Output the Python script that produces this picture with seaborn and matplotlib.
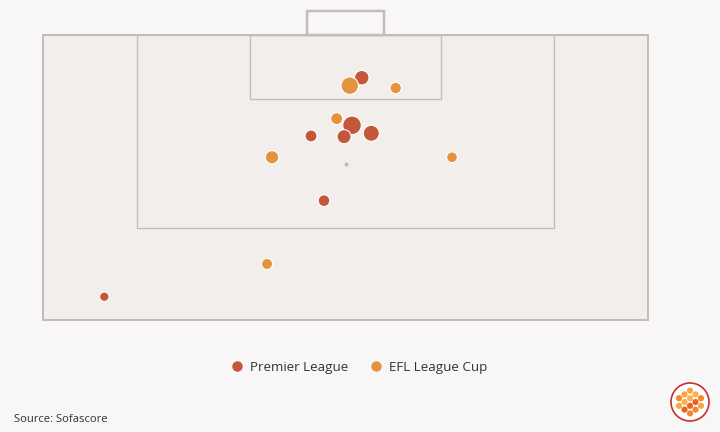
import numpy as np
import pandas as pd
import seaborn as sns
import matplotlib
matplotlib.use("Agg")
import matplotlib.pyplot as plt
from matplotlib.patches import Rectangle, Circle
from matplotlib.lines import Line2D

# ---- data (x: metres from pitch centre line, y: metres from goal line) ----
competition = ["Premier League"] * 7 + ["EFL League Cup"] * 6
shot_x = [0.63, 1.57, 2.49, -0.14, -3.33, -2.08, -23.30,
          0.41, 4.85, -0.85, -7.10, 10.29, -7.58]
shot_y = [7.72, 3.65, 8.40, 8.69, 8.63, 14.16, 22.37,
          4.33, 4.53, 7.15, 10.45, 10.45, 19.57]
shot_xg = [0.40, 0.20, 0.27, 0.18, 0.10, 0.09, 0.02,
           0.34, 0.08, 0.10, 0.15, 0.06, 0.07]
legend_labels = ["Premier League", "EFL League Cup"]
source_text = "Source: Sofascore"

df = pd.DataFrame({"x": shot_x, "y": shot_y, "xg": shot_xg, "comp": competition})

BG = "#F8F6F6"
PITCH = "#F2EEEB"
LINE = "#C2BDB8"
RED = "#C4573A"
ORANGE = "#E5923E"
palette = {"Premier League": RED, "EFL League Cup": ORANGE}

sns.set_theme(style="white")
plt.rcParams["font.family"] = ["Open Sans", "DejaVu Sans"]

fig = plt.figure(figsize=(7.2, 4.32), dpi=100, facecolor=BG)
ax = fig.add_axes([0, 0, 1, 1])
ax.set_facecolor(BG)

# pixel -> metre mapping
sx, sy = 10.35, 11.7
cx, gy = 345.5, 35.0
ax.set_xlim((0 - cx) / sx, (720 - cx) / sx)
ax.set_ylim((432 - gy) / sy, (0 - gy) / sy)
ax.axis("off")

px = 1 * 0.72  # one pixel in points
half_w = 605 / sx / 2
depth = 285 / sy

# pitch
ax.add_patch(Rectangle((-half_w, 0), 2 * half_w, depth, facecolor=PITCH,
                       edgecolor=LINE, lw=2 * px, zorder=1))
# penalty area
ax.add_patch(Rectangle((-20.16, 0), 40.32, 16.5, fill=False,
                       edgecolor=LINE, lw=1.3 * px, zorder=2))
# six-yard box
ax.add_patch(Rectangle((-9.2, 0), 18.4, 5.5, fill=False,
                       edgecolor=LINE, lw=1.3 * px, zorder=2))
# goal
ax.add_patch(Rectangle((-3.72, -24.3 / sy), 7.44, 24.3 / sy, facecolor=BG,
                       edgecolor=LINE, lw=2.5 * px, zorder=2))
# penalty spot
ax.scatter([0], [11], s=8, color="#BDB8B3", zorder=3, linewidths=0)

sns.scatterplot(data=df, x="x", y="y", hue="comp", size="xg",
                palette=palette, sizes=(46, 179), size_norm=(0.02, 0.40),
                edgecolor="white", linewidth=0.8, alpha=1, legend=False,
                ax=ax, zorder=4)
ax.set_xlabel("")
ax.set_ylabel("")

# legend
handles = [Line2D([], [], marker="o", linestyle="", markersize=7.5,
                  markerfacecolor=palette[l], markeredgecolor="none")
           for l in legend_labels]
fig.legend(handles, legend_labels, loc="center", ncol=2,
           bbox_to_anchor=(359 / 720, 1 - 367 / 432), frameon=False,
           fontsize=9.6, handlelength=1.0, handletextpad=0.45,
           columnspacing=1.6, labelcolor="#333333")

fig.text(14 / 720, 1 - 419 / 432, source_text, fontsize=8.1, color="#333333",
         va="center", ha="left")

# logo
lax = fig.add_axes([(690 - 22) / 720, 1 - (402 + 22) / 432, 44 / 720, 44 / 432])
lax.set_xlim(-22, 22)
lax.set_ylim(-22, 22)
lax.set_aspect("equal")
lax.axis("off")
lax.add_patch(Circle((0, 0), 19, facecolor="white", edgecolor="#C8302C", lw=1.2))
cols = [(-11, [-4, 4]), (-5.5, [-8, 0, 8]), (0, [-12, -4, 4, 12]),
        (5.5, [-8, 0, 8]), (11, [-4, 4])]
shades = ["#F7A640", "#EF8A2A", "#E8622A", "#F5B24C"]
k = 0
for xx, ys in cols:
    for yy in ys:
        lax.add_patch(Circle((xx, yy * 0.95), 3.1, facecolor=shades[k % 4], edgecolor="none"))
        k += 1

fig.savefig("out.png", dpi=100, facecolor=BG)
